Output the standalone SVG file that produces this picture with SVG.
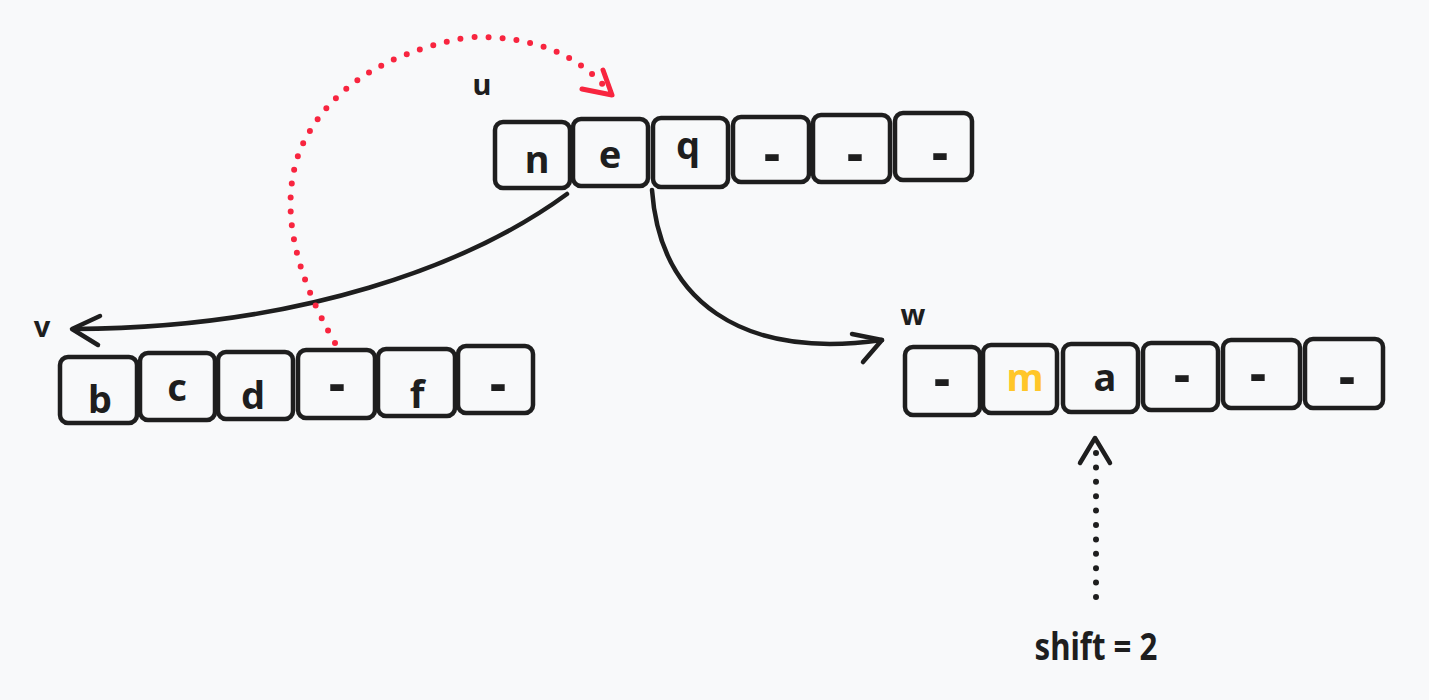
<svg xmlns="http://www.w3.org/2000/svg" width="1429" height="700" viewBox="0 0 1429 700">
<style>
.cell{fill:#f8f9fa;stroke:#1e1e1e;stroke-width:4.5}
.ch{font-family:"Noto Sans","Liberation Sans",sans-serif;font-weight:700;font-size:38px;fill:#1e1e1e;text-anchor:middle}
.dash{font-family:"Noto Sans","Liberation Sans",sans-serif;font-weight:800;font-size:50px;fill:#1e1e1e;text-anchor:middle}
.lbl{font-family:"Noto Sans","Liberation Sans",sans-serif;font-weight:700;font-size:29px;fill:#1e1e1e;text-anchor:middle}
.conn{fill:none;stroke:#1e1e1e;stroke-width:4.5;stroke-linecap:round;stroke-linejoin:round}
.dotred{fill:none;stroke:#f8253f;stroke-width:6;stroke-linecap:round;stroke-dasharray:0 14}
.dotblk{fill:none;stroke:#1e1e1e;stroke-width:6;stroke-linecap:round;stroke-dasharray:0 14.4}
.headred{fill:none;stroke:#f8253f;stroke-width:5;stroke-linecap:round;stroke-linejoin:round}
</style>
<rect width="1429" height="700" fill="#f8f9fa"/>

<g id="u">
<text class="lbl" x="482" y="95">u</text>
<rect class="cell" x="495" y="122" width="75" height="66" rx="8"/>
<rect class="cell" x="573" y="119" width="75" height="67" rx="8"/>
<rect class="cell" x="653" y="118" width="75" height="69" rx="8"/>
<rect class="cell" x="733" y="117" width="76" height="65" rx="8"/>
<rect class="cell" x="813" y="115" width="77" height="67" rx="8"/>
<rect class="cell" x="895" y="113" width="77" height="67" rx="8"/>
<text class="ch" x="537" y="173">n</text>
<text class="ch" x="610" y="168">e</text>
<text class="ch" x="688" y="159">q</text>
<text class="dash" x="772" y="171">-</text>
<text class="dash" x="855" y="171">-</text>
<text class="dash" x="940" y="170">-</text>
</g>

<g id="v">
<text class="lbl" x="42" y="337">v</text>
<rect class="cell" x="60" y="357" width="77" height="66" rx="8"/>
<rect class="cell" x="140" y="353" width="75" height="67" rx="8"/>
<rect class="cell" x="218" y="352" width="75" height="67" rx="8"/>
<rect class="cell" x="298" y="350" width="77" height="68" rx="8"/>
<rect class="cell" x="378" y="349" width="77" height="67" rx="8"/>
<rect class="cell" x="458" y="346" width="75" height="67" rx="8"/>
<text class="ch" x="100" y="413">b</text>
<text class="ch" x="177" y="401">c</text>
<text class="ch" x="253" y="409">d</text>
<text class="dash" x="337" y="401">-</text>
<text class="ch" x="417" y="408">f</text>
<text class="dash" x="498" y="401">-</text>
</g>

<g id="w">
<text class="lbl" x="913" y="325">w</text>
<rect class="cell" x="905" y="347" width="75" height="68" rx="8"/>
<rect class="cell" x="983" y="345" width="74" height="68" rx="8"/>
<rect class="cell" x="1063" y="344" width="75" height="68" rx="8"/>
<rect class="cell" x="1143" y="343" width="75" height="67" rx="8"/>
<rect class="cell" x="1223" y="340" width="77" height="68" rx="8"/>
<rect class="cell" x="1305" y="339" width="78" height="69" rx="8"/>
<text class="dash" x="942" y="396">-</text>
<text class="ch" x="1025" y="391" style="fill:#ffc629">m</text>
<text class="ch" x="1105" y="391">a</text>
<text class="dash" x="1182" y="392">-</text>
<text class="dash" x="1258" y="391">-</text>
<text class="dash" x="1347" y="394">-</text>
</g>

<g id="shift-label">
<text x="1096" y="660" style="font-family:'Noto Sans','Liberation Sans',sans-serif;font-weight:700;font-size:38px;fill:#1e1e1e;text-anchor:middle" textLength="123" lengthAdjust="spacingAndGlyphs">shift = 2</text>
</g>

<g id="connectors">
<path class="conn" d="M 567 194 C 470 265, 300 328, 74 329"/>
<path class="conn" d="M 100 316 L 72 329 L 98 345"/>
<path class="conn" d="M 652 190 C 660 300, 740 360, 882 340"/>
<path class="conn" d="M 852 334 L 882 340 L 863 362"/>
<path class="dotred" d="M 335 343 Q 270 230 300 150 Q 340 60 470 37 Q 560 35 606 88"/>
<path class="headred" d="M 603 70 L 612 95 L 582 89"/>
<path class="dotblk" d="M 1096 597 L 1096 453"/>
<path class="conn" d="M 1080 463 L 1095 438 L 1110 463"/>
</g>
</svg>
